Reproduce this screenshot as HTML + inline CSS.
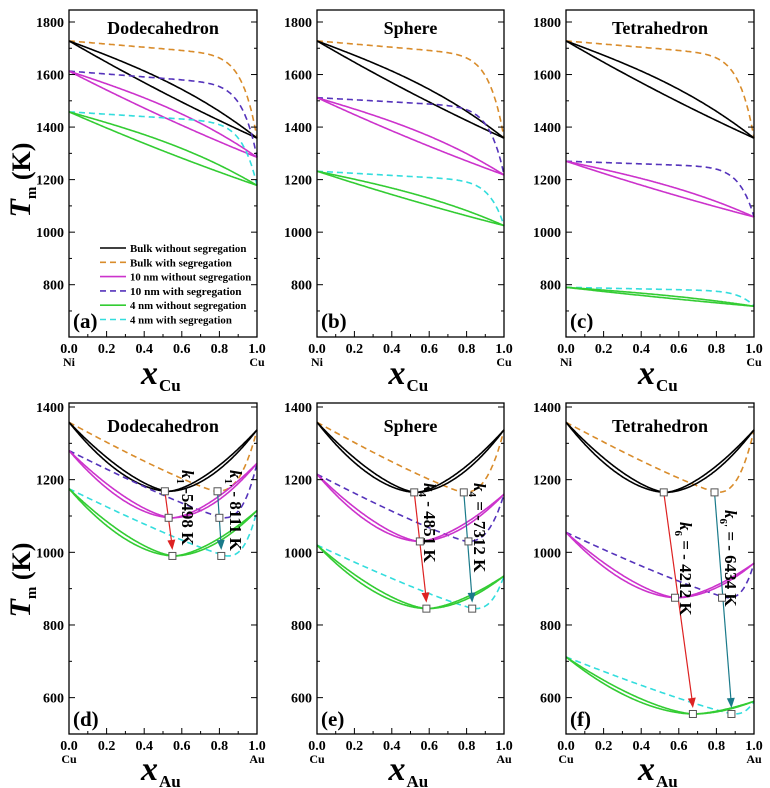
<!DOCTYPE html><html><head><meta charset="utf-8"><style>body{margin:0;background:#fff}svg{display:block}text{font-family:"Liberation Serif",serif;font-weight:bold}</style></head><body>
<svg id="s" width="770" height="788" xmlns="http://www.w3.org/2000/svg"></svg>
<script>
const S=document.getElementById('s');let h='';
const cols=[[69,257],[317,504],[566,754]];
const C={k:'#000',o:'#d98c2b',m:'#cc33cc',p:'#5533bb',g:'#33cc33',c:'#33dddd'};
function path(f,X,Y,col,dash,w){let d='';for(let i=0;i<=200;i++){const x=i/200;d+=(i?'L':'M')+X(x).toFixed(1)+','+Y(f(x)).toFixed(1);}h+=`<path d="${d}" fill="none" stroke="${col}" stroke-width="${w||1.6}" ${dash?'stroke-dasharray="6,4"':''}/>`;}
function frame(x0,x1,y0,y1,yv,vals,minor,top){
 h+=`<rect x="${x0}" y="${y0}" width="${x1-x0}" height="${y1-y0}" fill="none" stroke="#000" stroke-width="1.3"/>`;
 for(const v of minor){const y=yv(v);const L=vals.includes(v)?6:3;h+=`<line x1="${x0}" x2="${x0+L}" y1="${y}" y2="${y}" stroke="#000"/><line x1="${x1}" x2="${x1-L}" y1="${y}" y2="${y}" stroke="#000"/>`;}
 for(const v of vals){h+=`<text x="${x0-5}" y="${yv(v)+5}" font-size="14" text-anchor="end" font-family="Liberation Sans">${v}</text>`;}
 for(let i=0;i<=10;i++){const x=x0+(x1-x0)*i/10;const L=i%2==0?6:3;h+=`<line x1="${x}" x2="${x}" y1="${y1}" y2="${y1-L}" stroke="#000"/>`;if(i%2==0)h+=`<text x="${x}" y="${y1+16}" font-size="14" text-anchor="middle" font-family="Liberation Sans">${(i/10).toFixed(1)}</text>`;}
}
const yT=v=>22+(1800-v)*0.2627, yB=v=>407+(1400-v)*0.3633;
const topData=[
 {t:'Dodecahedron',l:'(a)',n:[[1613,1285,55,1],[1458,1178,45,1]]},
 {t:'Sphere',l:'(b)',n:[[1512,1218,40,1],[1232,1025,40,1]]},
 {t:'Tetrahedron',l:'(c)',n:[[1270,1058,25,1],[790,718,15,1]]}];
topData.forEach((P,ci)=>{const[x0,x1]=cols[ci];const X=x=>x0+(x1-x0)*x;
 const sets=[[1728,1358,60,'k','o'],[P.n[0][0],P.n[0][1],P.n[0][2],'m','p'],[P.n[1][0],P.n[1][1],P.n[1][2],'g','c']];
 sets.forEach(([A,B,a,cs,cd])=>{const D=A-B;
  path(x=>A-a*x-(D-a)*Math.pow(x,13),X,yT,C[cd],1);
  path(x=>A-D*x+0.1*D*4*x*(1-x)*(0.7+0.6*x),X,yT,C[cs]);
  path(x=>A-D*x-0.03*D*4*x*(1-x),X,yT,C[cs]);});
 frame(x0,x1,10,337,yT,[800,1000,1200,1400,1600,1800],[700,800,900,1000,1100,1200,1300,1400,1500,1600,1700,1800]);
 h+=`<text x="${(x0+x1)/2}" y="34" font-size="18" text-anchor="middle">${P.t}</text>`;
 h+=`<text x="${x0+4}" y="328" font-size="21">${P.l}</text>`;
 h+=`<text x="${x0}" y="366" font-size="12" text-anchor="middle">Ni</text><text x="${x1}" y="366" font-size="12" text-anchor="middle">Cu</text>`;
 h+=`<text x="${(x0+x1)/2-5}" y="384" font-size="34" font-style="italic" text-anchor="end">x</text><text x="${(x0+x1)/2-4}" y="391" font-size="17">Cu</text>`;
});
[['k',0,'Bulk without segregation'],['o',1,'Bulk with segregation'],['m',0,'10 nm without segregation'],['p',1,'10 nm with  segregation'],['g',0,'4 nm without segregation'],['c',1,'4 nm with segregation']].forEach(([c,d,t],i)=>{const y=248+i*14.3;
 h+=`<line x1="100" x2="126" y1="${y}" y2="${y}" stroke="${C[c]}" stroke-width="1.6" ${d?'stroke-dasharray="6,4"':''}/><text x="130" y="${y+4}" font-size="10.5" textLength="${t.length*4.85}" lengthAdjust="spacingAndGlyphs">${t}</text>`;});
function vs(A,B,xm,Tm,p,q){return x=>x<xm?Tm+(A-Tm)*Math.pow((xm-x)/xm,p):Tm+(B-Tm)*Math.pow((x-xm)/(1-xm),q);}
const botData=[
 {t:'Dodecahedron',l:'(d)',n:[[1358,1337,0.53,1168,0.78],[1280,1245,0.55,1095,0.82],[1175,1115,0.56,990,0.84]],
  m:[[[0.51,1168],[0.53,1095],[0.55,990]],[[0.79,1168],[0.80,1095],[0.81,990]]],
  k:['1','-5498 K',182,470,'1\'','- 8111 K',230,470]},
 {t:'Sphere',l:'(e)',n:[[1358,1337,0.53,1165,0.78],[1215,1160,0.55,1030,0.8],[1020,935,0.59,845,0.84]],
  m:[[[0.52,1165],[0.55,1030],[0.585,845]],[[0.785,1165],[0.81,1030],[0.83,845]]],
  k:['4','- 4851 K',424,483,'4','= -7312 K',474,483]},
 {t:'Tetrahedron',l:'(f)',n:[[1358,1337,0.53,1165,0.8],[1055,970,0.59,875,0.86],[712,590,0.68,555,0.89]],
  m:[[[0.52,1165],[0.58,875],[0.675,555]],[[0.79,1165],[0.83,875],[0.88,555]]],
  k:['6','= - 4212 K',680,522,'6\'','= - 6434 K',725,510]}];
botData.forEach((P,ci)=>{const[x0,x1]=cols[ci];const X=x=>x0+(x1-x0)*x;
 const cl=[['k','o'],['m','p'],['g','c']];
 P.n.forEach(([A,B,xm,Tm,xd],i)=>{
  path(vs(A,B,xd,Tm,1.15,2.6),X,yB,C[cl[i][1]],1);
  path(vs(A,B,xm,Tm,1.5,1.55),X,yB,C[cl[i][0]]);
  path(vs(A,B,xm,Tm,1.8,1.85),X,yB,C[cl[i][0]]);});
 frame(x0,x1,403,734,yB,[600,800,1000,1200,1400],[600,700,800,900,1000,1100,1200,1300,1400]);
 P.m.forEach((pts,j)=>{const col=j?'#1a7a8a':'#dd2222';const a=pts[0],b=pts[2];
  const ax=X(a[0]),ay=yB(a[1]),bx=X(b[0]),by=yB(b[1])-8;
  h+=`<line x1="${ax}" y1="${ay}" x2="${bx}" y2="${by}" stroke="${col}" stroke-width="1.2"/>`;
  const ang=Math.atan2(by-ay,bx-ax);const p1=[bx-8*Math.cos(ang)+4*Math.sin(ang),by-8*Math.sin(ang)-4*Math.cos(ang)],p2=[bx-8*Math.cos(ang)-4*Math.sin(ang),by-8*Math.sin(ang)+4*Math.cos(ang)];
  h+=`<polygon points="${bx},${by+2} ${p1} ${p2}" fill="${col}"/>`;
  pts.forEach(q=>h+=`<rect x="${X(q[0])-3.5}" y="${yB(q[1])-3.5}" width="7" height="7" fill="#fff" stroke="#555"/>`);});
 const k=P.k;
 [[k[0],k[1],k[2],k[3]],[k[4],k[5],k[6],k[7]]].forEach(([s,t,x,y])=>{h+=`<text transform="translate(${x},${y}) rotate(90)" font-size="17"><tspan font-style="italic">k</tspan><tspan font-size="11" dy="5">${s}</tspan><tspan dy="-5"> ${t}</tspan></text>`;});
 h+=`<text x="${(x0+x1)/2}" y="432" font-size="18" text-anchor="middle">${P.t}</text>`;
 h+=`<text x="${x0+4}" y="726" font-size="21">${P.l}</text>`;
 h+=`<text x="${x0}" y="763" font-size="12" text-anchor="middle">Cu</text><text x="${x1}" y="763" font-size="12" text-anchor="middle">Au</text>`;
 h+=`<text x="${(x0+x1)/2-5}" y="780" font-size="34" font-style="italic" text-anchor="end">x</text><text x="${(x0+x1)/2-4}" y="787" font-size="17">Au</text>`;
});
[180,580].forEach(c=>{h+=`<text transform="translate(30,${c}) rotate(-90)" font-size="26" text-anchor="middle"><tspan font-style="italic" font-size="30">T</tspan><tspan font-size="15" dy="6">m</tspan><tspan dy="-6"> (K)</tspan></text>`;});
S.innerHTML=h;
</script></body></html>
